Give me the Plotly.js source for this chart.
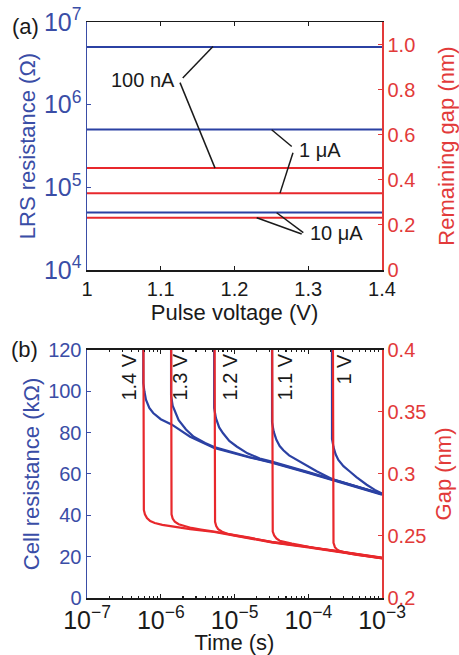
<!DOCTYPE html>
<html>
<head>
<meta charset="utf-8">
<script src="https://cdn.plot.ly/plotly-3.0.1.min.js"></script>
<style>html,body{margin:0;padding:0;background:#fff;}#chart{width:459px;height:655px;}</style>
</head>
<body>
<div id="chart"></div>
<script>
// ---------- Panel (a) data ----------
const pulseVoltage = [1.0, 1.4];
const lrs100nA = [5.0e6, 5.0e6];
const lrs1uA   = [5.0e5, 5.0e5];
const lrs10uA  = [4.95e4, 4.95e4];
const gap100nA = [0.452, 0.452];
const gap1uA   = [0.341, 0.341];
const gap10uA  = [0.232, 0.232];
const gapTickVals = [0, 0.2, 0.4, 0.6, 0.8, 1.0];
const gapTickText = ['0', '0.2', '0.4', '0.6', '0.8', '1.0'];
const currentLabels = ['100 nA', '1 \u03bcA', '10 \u03bcA'];

// ---------- Panel (b) data ----------
const voltLabels = ['1.4 V', '1.3 V', '1.2 V', '1.1 V', '1 V'];
// cell resistance (kOhm) vs time (s)
const tR14 = [5.8e-7, 5.8e-7, 6.0e-7, 6.3e-7, 7.0e-7, 7.9e-7, 1.0e-6, 1.4e-6, 2.5e-6, 5.3e-6, 1.6e-5, 3.2e-5, 1e-4, 2.1e-4, 5e-4, 1e-3];
const R14  = [130, 104, 100, 96, 92, 89.5, 86.5, 84, 78, 72.6, 68, 65.5, 60.5, 57, 53.2, 50];
const tR13 = [1.38e-6, 1.38e-6, 1.45e-6, 1.6e-6, 1.75e-6, 2.2e-6, 2.8e-6, 4e-6, 5.3e-6, 1.6e-5, 3.2e-5, 1e-4, 2.1e-4, 5e-4, 1e-3];
const R13  = [130, 98, 93, 89, 86, 81.5, 78, 75, 73, 68.2, 65.7, 60.7, 57.2, 53.3, 50.2];
const tR12 = [5.3e-6, 5.3e-6, 5.6e-6, 6.2e-6, 7.0e-6, 8.5e-6, 1.07e-5, 1.5e-5, 2.2e-5, 3.2e-5, 1e-4, 2.1e-4, 5e-4, 1e-3];
const R12  = [130, 92, 87, 82.5, 79.7, 76, 73.3, 70, 67.5, 66, 60.9, 57.4, 53.4, 50.3];
const tR11 = [3.23e-5, 3.23e-5, 3.4e-5, 3.7e-5, 4.1e-5, 4.6e-5, 5.5e-5, 7e-5, 1e-4, 1.3e-4, 2.1e-4, 5e-4, 1e-3];
const R11  = [130, 85, 80.5, 76.5, 73.5, 71.5, 69, 66.8, 63.5, 61.3, 57.6, 53.5, 50.4];
const tR10 = [2.1e-4, 2.1e-4, 2.2e-4, 2.35e-4, 2.56e-4, 3e-4, 3.66e-4, 4.5e-4, 6.2e-4, 8e-4, 1e-3];
const R10  = [130, 77, 73, 69.5, 66.8, 63.8, 61.2, 58.5, 54.8, 52.3, 50.6];
// gap (nm) vs time (s)
const tG14 = [5.8e-7, 5.8e-7, 5.9e-7, 6.1e-7, 6.5e-7, 7.2e-7, 8.3e-7, 1.05e-6, 1.4e-6, 2.5e-6, 5.3e-6, 1.6e-5, 3.2e-5, 1e-4, 2.1e-4, 5e-4, 1e-3];
const G14  = [0.45, 0.276, 0.271, 0.2675, 0.2645, 0.262, 0.2605, 0.259, 0.2578, 0.2556, 0.2532, 0.2483, 0.2448, 0.2408, 0.2378, 0.2345, 0.232];
const tG13 = [1.38e-6, 1.38e-6, 1.40e-6, 1.45e-6, 1.55e-6, 1.75e-6, 2.1e-6, 2.6e-6, 3.5e-6, 5.3e-6, 1.6e-5, 3.2e-5, 1e-4, 2.1e-4, 5e-4, 1e-3];
const G13  = [0.45, 0.272, 0.2675, 0.264, 0.2615, 0.2595, 0.258, 0.2565, 0.2552, 0.2536, 0.2487, 0.2451, 0.2411, 0.2381, 0.2347, 0.2322];
const tG12 = [5.35e-6, 5.35e-6, 5.45e-6, 5.65e-6, 6.0e-6, 6.8e-6, 8e-6, 1.0e-5, 1.4e-5, 2e-5, 3.2e-5, 1e-4, 2.1e-4, 5e-4, 1e-3];
const G12  = [0.45, 0.266, 0.2615, 0.258, 0.2555, 0.2535, 0.2518, 0.2505, 0.249, 0.2475, 0.2453, 0.2413, 0.2383, 0.2349, 0.2324];
const tG11 = [3.23e-5, 3.23e-5, 3.3e-5, 3.45e-5, 3.7e-5, 4.1e-5, 4.8e-5, 6e-5, 8e-5, 1.2e-4, 2.1e-4, 5e-4, 1e-3];
const G11  = [0.45, 0.258, 0.2535, 0.2505, 0.248, 0.2462, 0.245, 0.2438, 0.2425, 0.2403, 0.2384, 0.2351, 0.2326];
const tG10 = [2.15e-4, 2.15e-4, 2.2e-4, 2.3e-4, 2.45e-4, 2.7e-4, 3.1e-4, 3.7e-4, 4.6e-4, 6e-4, 8e-4, 1e-3];
const G10  = [0.45, 0.249, 0.2445, 0.241, 0.2392, 0.2378, 0.2368, 0.2358, 0.2348, 0.2338, 0.2329, 0.2322];

// ---------- styles ----------
const BLUE = '#2B41A3';
const BLUE_AX = '#3A4DA6';
const RED = '#E8282C';
const RED_AX = '#E23A3A';
const BLACK = '#1a1a1a';
const FONT = 'Liberation Sans, Arial, Helvetica, sans-serif';

function ln(x, y, color, xa, ya, w) {
  return {x: x, y: y, type: 'scatter', mode: 'lines', xaxis: xa, yaxis: ya,
          line: {color: color, width: w}, hoverinfo: 'skip', cliponaxis: true};
}

const traces = [
  ln(pulseVoltage, lrs100nA, BLUE, 'x', 'y', 2),
  ln(pulseVoltage, lrs1uA, BLUE, 'x', 'y', 2),
  ln(pulseVoltage, lrs10uA, BLUE, 'x', 'y', 2),
  ln(pulseVoltage, gap100nA, RED, 'x', 'y2', 2),
  ln(pulseVoltage, gap1uA, RED, 'x', 'y2', 2),
  ln(pulseVoltage, gap10uA, RED, 'x', 'y2', 2),
  ln(tR14, R14, BLUE, 'x2', 'y3', 2.2),
  ln(tR13, R13, BLUE, 'x2', 'y3', 2.2),
  ln(tR12, R12, BLUE, 'x2', 'y3', 2.2),
  ln(tR11, R11, BLUE, 'x2', 'y3', 2.2),
  ln(tR10, R10, BLUE, 'x2', 'y3', 2.2),
  ln(tG14, G14, RED, 'x2', 'y4', 2.2),
  ln(tG13, G13, RED, 'x2', 'y4', 2.2),
  ln(tG12, G12, RED, 'x2', 'y4', 2.2),
  ln(tG11, G11, RED, 'x2', 'y4', 2.2),
  ln(tG10, G10, RED, 'x2', 'y4', 2.2)
];

function seg(x0, y0, x1, y1) {
  return {type: 'line', xref: 'x', yref: 'y2', x0: x0, y0: y0, x1: x1, y1: y1,
          line: {color: BLACK, width: 1.5}};
}
const shapes = [
  seg(1.1298, 0.852, 1.1708, 0.991),
  seg(1.1261, 0.831, 1.1736, 0.452),
  seg(1.2776, 0.548, 1.2504, 0.622),
  seg(1.2793, 0.520, 1.2617, 0.341),
  seg(1.2933, 0.166, 1.2572, 0.254),
  seg(1.2911, 0.160, 1.2301, 0.232)
];

const annFont = {family: FONT, size: 20, color: BLACK};
const annotations = [
  {xref: 'x', yref: 'y2', x: 1.0759, y: 0.844, text: currentLabels[0], showarrow: false, font: annFont, xanchor: 'center', yanchor: 'middle'},
  {xref: 'x', yref: 'y2', x: 1.3159, y: 0.533, text: currentLabels[1], showarrow: false, font: annFont, xanchor: 'center', yanchor: 'middle'},
  {xref: 'x', yref: 'y2', x: 1.3386, y: 0.164, text: currentLabels[2], showarrow: false, font: annFont, xanchor: 'center', yanchor: 'middle'},
  {xref: 'paper', yref: 'paper', x: -0.207, y: 0.993, text: '(a)', showarrow: false, font: {family: FONT, size: 22, color: BLACK}, xanchor: 'center', yanchor: 'middle'},
  {xref: 'paper', yref: 'paper', x: -0.213, y: 0.4306, text: '(b)', showarrow: false, font: {family: FONT, size: 22, color: BLACK}, xanchor: 'center', yanchor: 'middle'}
];
const vlx = [-6.43, -5.739, -5.061, -4.315, -3.515];
voltLabels.forEach(function (t, i) {
  annotations.push({xref: 'x2', yref: 'y3', x: vlx[i], y: 119, text: t, textangle: -90,
    showarrow: false, font: annFont, xanchor: 'center', yanchor: 'top'});
});

const tickFont = (c) => ({family: FONT, size: 20, color: c});
const titleFont = (c) => ({family: FONT, size: 22, color: c});

const layout = {
  width: 459, height: 655,
  margin: {l: 87, r: 77, t: 22, b: 57, pad: 0},
  showlegend: false,
  paper_bgcolor: '#fff', plot_bgcolor: '#fff',
  font: {family: FONT, size: 20, color: BLACK},
  xaxis: {domain: [0, 1], anchor: 'y', range: [1, 1.4], tick0: 1, dtick: 0.1,
    ticks: 'inside', ticklen: 4, tickwidth: 1.2, tickcolor: BLACK,
    showline: true, linecolor: BLACK, linewidth: 1.5, mirror: 'ticks',
    showgrid: false, zeroline: false, tickfont: tickFont(BLACK),
    title: {text: 'Pulse voltage (V)', font: titleFont(BLACK), standoff: 3}, automargin: false},
  yaxis: {domain: [0.5694, 1], anchor: 'x', type: 'log', range: [4, 7], dtick: 1,
    exponentformat: 'power', ticks: 'inside', ticklen: 4, tickcolor: BLUE_AX,
    showline: true, linecolor: BLUE_AX, linewidth: 1.5, showgrid: false, zeroline: false,
    tickfont: tickFont(BLUE_AX),
    title: {text: 'LRS resistance (\u03a9)', font: titleFont(BLUE_AX), standoff: 2}, automargin: false},
  yaxis2: {overlaying: 'y', side: 'right', anchor: 'x', range: [0, 1.1],
    tickvals: gapTickVals, ticktext: gapTickText,
    ticks: 'inside', ticklen: 4, tickcolor: RED_AX,
    showline: true, linecolor: RED_AX, linewidth: 1.5, showgrid: false, zeroline: false,
    tickfont: tickFont(RED_AX),
    title: {text: 'Remaining gap (nm)', font: titleFont(RED_AX), standoff: 24}, automargin: false},
  xaxis2: {domain: [0, 1], anchor: 'y3', type: 'log', range: [-7, -3], dtick: 1,
    exponentformat: 'power', ticks: 'inside', ticklen: 4, tickwidth: 1.2, tickcolor: BLACK,
    minor: {ticks: 'inside', ticklen: 2.5, tickcolor: BLACK, showgrid: false},
    showline: true, linecolor: BLACK, linewidth: 1.5, mirror: 'ticks',
    showgrid: false, zeroline: false, tickfont: tickFont(BLACK),
    title: {text: 'Time (s)', font: titleFont(BLACK), standoff: 6}, automargin: false},
  yaxis3: {domain: [0, 0.4306], anchor: 'x2', range: [0, 120], dtick: 20,
    ticks: 'inside', ticklen: 4, tickcolor: BLUE_AX,
    showline: true, linecolor: BLUE_AX, linewidth: 1.5, showgrid: false, zeroline: false,
    tickfont: tickFont(BLUE_AX),
    title: {text: 'Cell resistance (k\u03a9)', font: titleFont(BLUE_AX), standoff: 2}, automargin: false},
  yaxis4: {overlaying: 'y3', side: 'right', anchor: 'x2', range: [0.2, 0.4], dtick: 0.05,
    ticks: 'inside', ticklen: 4, tickcolor: RED_AX,
    showline: true, linecolor: RED_AX, linewidth: 1.5, showgrid: false, zeroline: false,
    tickfont: tickFont(RED_AX),
    title: {text: 'Gap (nm)', font: titleFont(RED_AX), standoff: 10}, automargin: false},
  shapes: shapes,
  annotations: annotations
};

Plotly.newPlot('chart', traces, layout, {staticPlot: true, displayModeBar: false});
</script>
</body>
</html>
